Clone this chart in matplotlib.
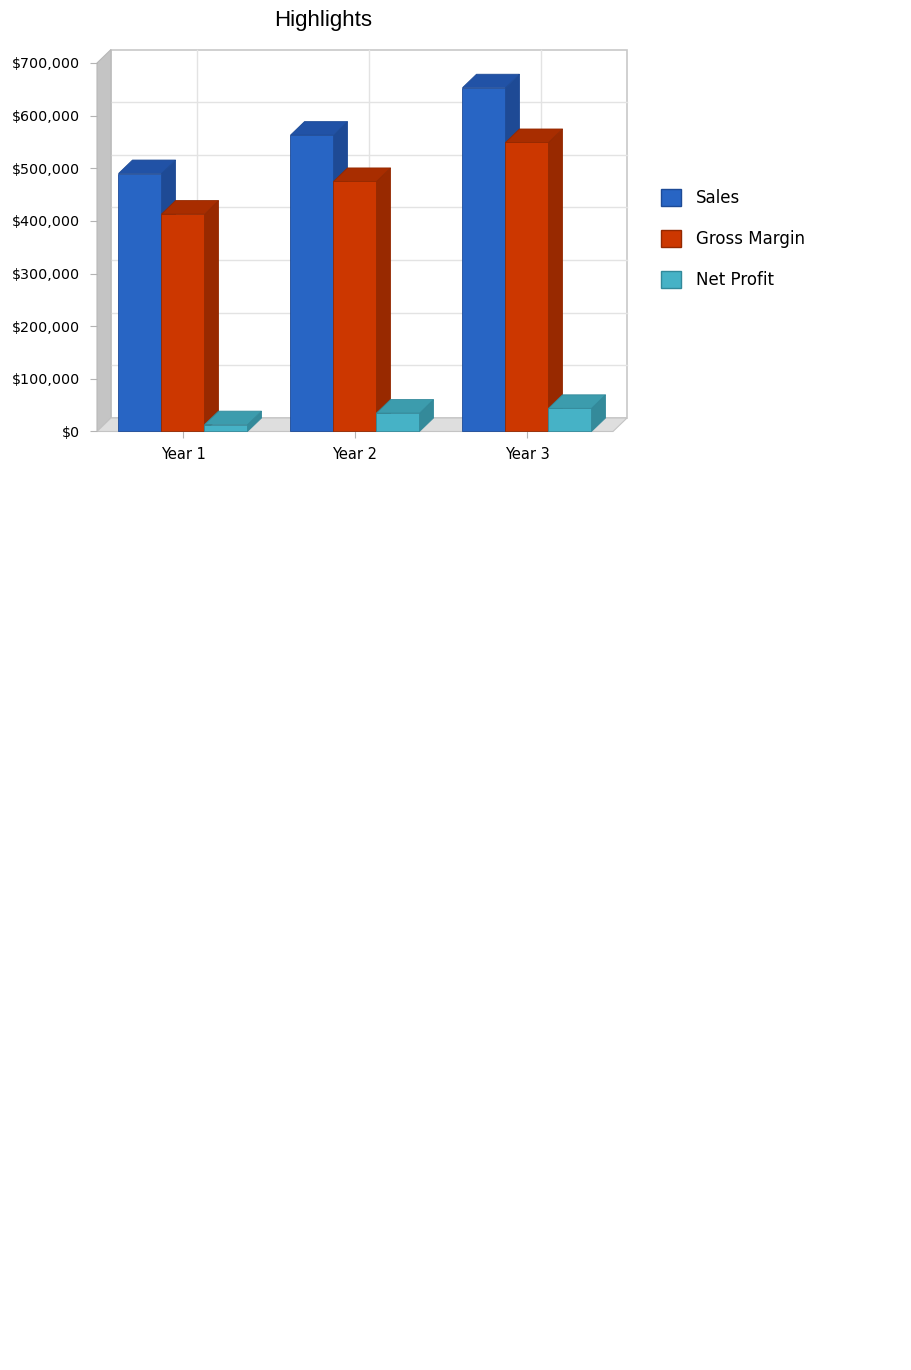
import matplotlib
matplotlib.use("Agg")
from matplotlib import pyplot as plt
from matplotlib.patches import Polygon, Rectangle, Patch
from matplotlib.ticker import FuncFormatter

# data
years = ["Year 1", "Year 2", "Year 3"]
series_names = ["Sales", "Gross Margin", "Net Profit"]
sales = [490000, 563000, 653000]
gross_margin = [413000, 475000, 549000]
net_profit = [13000, 35000, 44000]
y_ticks = [0, 100000, 200000, 300000, 400000, 500000, 600000, 700000]

front_colors = ["#2865c4", "#cc3700", "#46b2c6"]
top_colors = ["#2152a6", "#a82d00", "#3c9cad"]
side_colors = ["#1e4a95", "#982900", "#348a9a"]
edge_colors = ["#1d4a96", "#932800", "#32899a"]

W, H = 912, 1370
fig = plt.figure(figsize=(W / 100, H / 100), dpi=100)

# front plane of the 3d box, in pixels
left_px, right_px, bottom_px, top_px = 97, 613, 431.5, 63
ax = fig.add_axes([left_px / W, 1 - bottom_px / H,
                   (right_px - left_px) / W, (bottom_px - top_px) / H])
nx = len(years)
ymax = y_ticks[-1]
ax.set_xlim(0, nx)
ax.set_ylim(0, ymax)
ax.patch.set_alpha(0)
for s in ax.spines.values():
    s.set_visible(False)

# depth of the box in data units
depth_x_px, depth_y_px = 14, 13.5
dx = depth_x_px * nx / (right_px - left_px)
dy = depth_y_px * ymax / (bottom_px - top_px)

# back wall + grid
ax.add_patch(Rectangle((dx, dy), nx, ymax, facecolor="white", edgecolor="#c8c8c8",
                       lw=1.2, clip_on=False, zorder=0))
for t in y_ticks[1:-1]:
    ax.plot([dx, nx + dx], [t + dy, t + dy], color="#e3e3e3", lw=1, clip_on=False, zorder=0.5)
for i in range(nx):
    ax.plot([i + 0.5 + dx] * 2, [dy, ymax + dy], color="#e3e3e3", lw=1, clip_on=False, zorder=0.5)

# left wall and floor
ax.add_patch(Polygon([(0, 0), (dx, dy), (dx, ymax + dy), (0, ymax)], closed=True,
                     facecolor="#c4c4c4", edgecolor="#b8b8b8", lw=0.8, clip_on=False, zorder=1))
ax.add_patch(Polygon([(0, 0), (nx, 0), (nx + dx, dy), (dx, dy)], closed=True,
                     facecolor="#dedede", edgecolor="#c4c4c4", lw=0.8, clip_on=False, zorder=1))

# bars: front face, top face, right side face
bar_w = 0.25
values = [sales, gross_margin, net_profit]
z = 2
for i in range(nx):
    for j, vals in enumerate(values):
        x0 = i + 0.5 + (j - 1.5) * bar_w
        v = vals[i]
        x1 = x0 + bar_w
        ax.add_patch(Polygon([(x1, 0), (x1, v), (x1 + dx, v + dy), (x1 + dx, dy)], closed=True,
                             facecolor=side_colors[j], edgecolor=edge_colors[j], lw=0.6,
                             clip_on=False, zorder=z))
        ax.add_patch(Polygon([(x0, v), (x0 + dx, v + dy), (x1 + dx, v + dy), (x1, v)], closed=True,
                             facecolor=top_colors[j], edgecolor=edge_colors[j], lw=0.6,
                             clip_on=False, zorder=z))
        ax.bar(x0, v, width=bar_w, align="edge", color=front_colors[j],
               edgecolor=edge_colors[j], lw=0.6, clip_on=False, zorder=z + 0.5)
        z += 1

# axes ticks
ax.set_xticks([i + 0.5 for i in range(nx)])
ax.set_xticklabels(years)
ax.set_yticks(y_ticks)
ax.yaxis.set_major_formatter(FuncFormatter(lambda v, p: "${:,.0f}".format(v)))
ax.tick_params(axis="x", length=5, color="#b4b4b4", pad=6, labelsize=10.5)
ax.tick_params(axis="y", length=5, color="#b4b4b4", pad=7, labelsize=10.3)

handles = [Patch(facecolor=front_colors[j], edgecolor=edge_colors[j], label=series_names[j])
           for j in range(len(series_names))]
fig.legend(handles=handles, loc="upper left", bbox_to_anchor=(661 / W, 1 - 189 / H),
           frameon=False, fontsize=12, handlelength=1.2, handleheight=1.2,
           handletextpad=0.9, labelspacing=1.37, borderpad=0, borderaxespad=0)

fig.text(323 / W, 1 - 26 / H, "Highlights", ha="center", va="baseline",
         fontsize=16, family="Liberation Sans")

fig.savefig("out.png", dpi=100)
